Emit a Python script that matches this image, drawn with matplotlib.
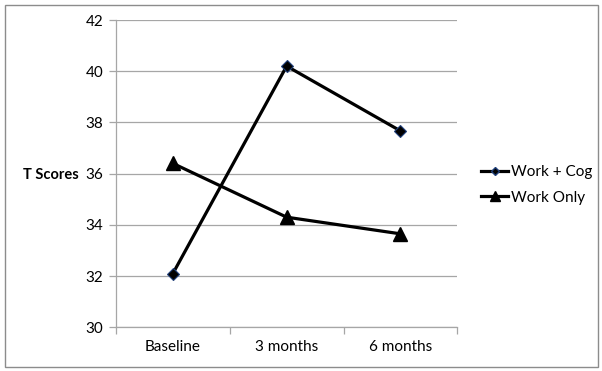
import matplotlib.pyplot as plt
from matplotlib.lines import Line2D
from matplotlib.patches import Rectangle

categories = ['Baseline', '3 months', '6 months']
work_cog = [32.1, 40.2, 37.67]
work_only = [36.4, 34.3, 33.65]
y_ticks = [30, 32, 34, 36, 38, 40, 42]

plt.rcParams['font.family'] = ['Lato', 'DejaVu Sans']

fig = plt.figure(figsize=(6.02, 3.71), dpi=100)
W, H = 602, 371
ax = fig.add_axes([116 / W, (H - 327.3) / H, (457.3 - 116) / W, (327.3 - 20) / H])

x = range(len(categories))
ax.plot(x, work_cog, color='black', lw=2.3, marker='D', ms=6.5,
        mfc='black', mec='#1f3f7a', mew=0.8, label='Work + Cog', zorder=3)
ax.plot(x, work_only, color='black', lw=2.3, marker='^', ms=10,
        mfc='black', mec='black', label='Work Only', zorder=3)

ax.set_xlim(-0.5, 2.5)
ax.set_ylim(30, 42)
ax.set_yticks(y_ticks)
ax.yaxis.grid(True, color='#a6a6a6', lw=0.9)
ax.set_axisbelow(True)
ax.set_xticks([-0.5, 0.5, 1.5, 2.5])
ax.set_xticklabels([])
ax.set_xticks(list(x), minor=True)
ax.set_xticklabels(categories, minor=True, fontsize=11)
ax.tick_params(axis='x', which='minor', length=0, pad=9)
ax.tick_params(axis='x', which='major', length=5, color='#a6a6a6', width=0.9)
ax.tick_params(axis='y', length=5, color='#a6a6a6', width=0.9, labelsize=11, pad=4)
for s in ['top', 'right']:
    ax.spines[s].set_visible(False)
for s in ['left', 'bottom']:
    ax.spines[s].set_color('#a6a6a6')
    ax.spines[s].set_linewidth(0.9)

ax.set_ylabel('T Scores', rotation=0, fontweight='bold', fontsize=10.5,
              ha='right', va='center', labelpad=2)
ax.yaxis.set_label_coords(-0.11, (H - 175 - (H - 327.3)) / (327.3 - 20))

handles = [
    Line2D([], [], color='black', lw=2.3, marker='D', ms=4.5, mfc='black', mec='#1f3f7a'),
    Line2D([], [], color='black', lw=2.3, marker='^', ms=7, mfc='black'),
]
fig.legend(handles, ['Work + Cog', 'Work Only'], loc='center left',
           bbox_to_anchor=(467 / W, (H - 185) / H), frameon=False,
           fontsize=11, handlelength=1.8, handletextpad=0.15, labelspacing=0.75)

fig.patches.append(Rectangle((5 / W, 4 / H), 592.5 / W, 362.5 / H,
                             transform=fig.transFigure, fill=False,
                             edgecolor='#8c8c8c', lw=1))

fig.savefig('out.png', dpi=100)
